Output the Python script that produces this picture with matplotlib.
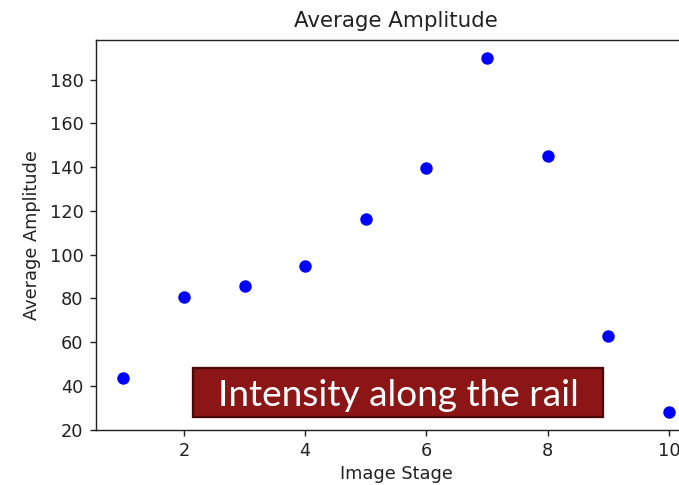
import matplotlib
matplotlib.use("Agg")
import matplotlib.pyplot as plt
from matplotlib.patches import Rectangle

stages = [1, 2, 3, 4, 5, 6, 7, 8, 9, 10]
amplitude = [43.5, 80.5, 85.5, 95, 116.5, 139.7, 190, 145, 62.8, 28.2]
title = "Average Amplitude"
xlabel = "Image Stage"
ylabel = "Average Amplitude"
banner = "Intensity along the rail"

DPI = 128
W, H = 679, 485
plt.rcParams['font.family'] = ['DejaVu Sans']
fig = plt.figure(figsize=(W / DPI, H / DPI), dpi=DPI)
ax = fig.add_axes([96 / W, 1 - 430 / H, (696.3 - 96) / W, (430 - 40) / H])
ax.plot(stages, amplitude, 'o', color='blue', markersize=6)
ax.set_xlim(0.55, 10.45)
ax.set_ylim(19.9, 198.1)
ax.set_xticks([2, 4, 6, 8, 10])
ax.set_yticks([20, 40, 60, 80, 100, 120, 140, 160, 180])
ax.tick_params(labelsize=10, colors='#222222', labelcolor='#222222')
for s in ax.spines.values():
    s.set_color('#222222')
ax.set_title(title, fontsize=12, color='#222222', pad=7.5)
ax.set_xlabel(xlabel, fontsize=10, color='#222222', labelpad=2.5)
ax.set_ylabel(ylabel, fontsize=10, color='#222222', labelpad=5)

fig.patches.append(Rectangle((193 / W, 1 - 416.7 / H), (603 - 193) / W, (416.7 - 368.3) / H,
                             transform=fig.transFigure, facecolor='#8c1616', edgecolor='#4a0808',
                             linewidth=1.3, zorder=5))
fig.text(398 / W, 1 - 406.5 / H, banner, family=['Lato', 'DejaVu Sans'], fontsize=20.8,
         color='white', ha='center', va='baseline', zorder=6)

fig.savefig("out.png", dpi=DPI)
